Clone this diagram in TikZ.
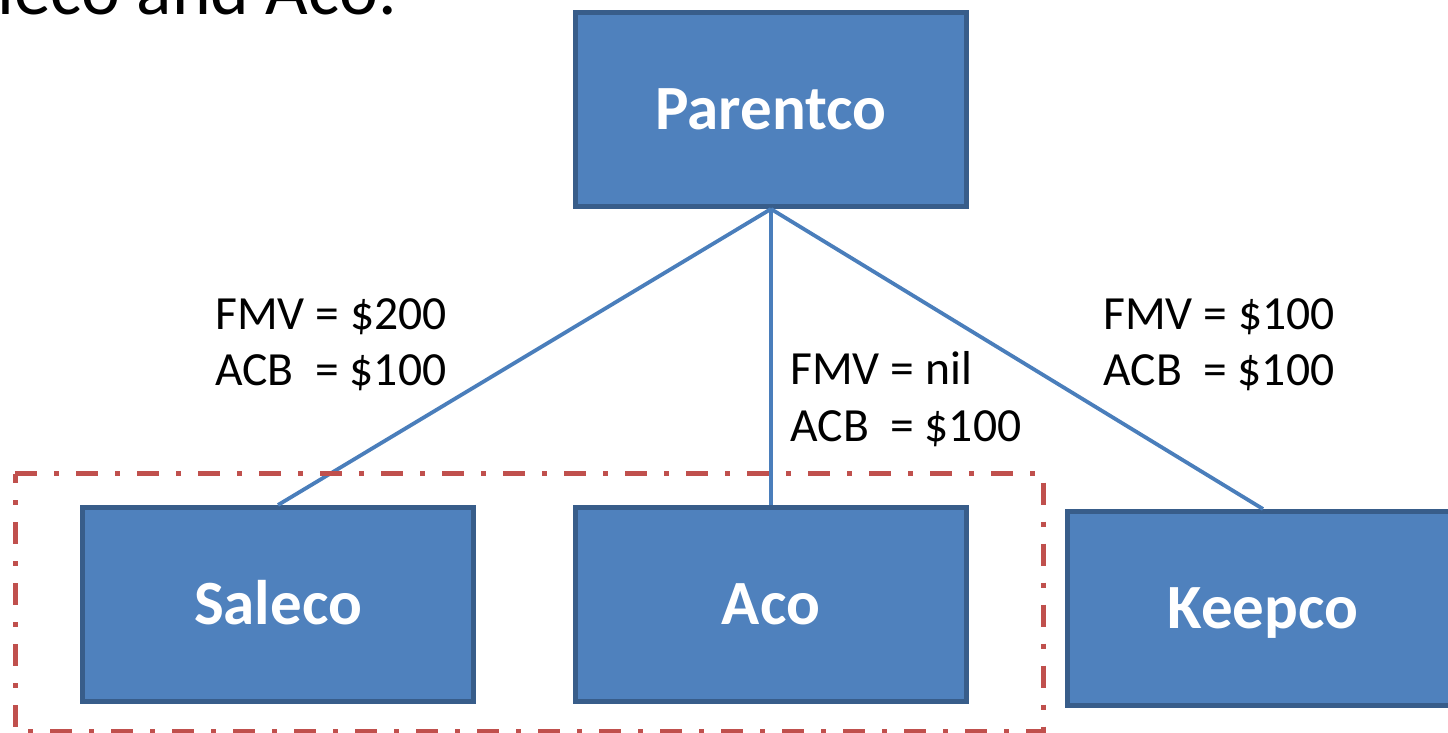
\documentclass[tikz,border=0pt]{standalone}
\usepackage{fontspec}
\setmainfont{Carlito}
\definecolor{boxfill}{HTML}{4F81BD}
\definecolor{boxline}{HTML}{385D8A}
\definecolor{linkline}{HTML}{4A7EBB}
\definecolor{groupred}{HTML}{C0504D}
\begin{document}
\begin{tikzpicture}[x=0.5pt,y=-0.5pt,
  entity/.style={draw=boxline, line width=2.5pt, fill=boxfill, text=white,
    font=\fontsize{31.5}{37}\selectfont\bfseries,
    minimum width=195.5pt, minimum height=97pt, inner sep=0pt,
    text height=20.3pt, text depth=0pt},
  link/.style={draw=linkline, line width=1.9pt},
  value/.style={font=\fontsize{23.8}{28.5}\selectfont, anchor=base west, inner sep=0pt},
  heading/.style={font=\fontsize{36.8}{44}\selectfont, anchor=base west, inner sep=0pt},
  group/.style={draw=groupred, line width=2.5pt,
    dash pattern=on 11pt off 8.5pt on 2.5pt off 8.5pt}]
\useasboundingbox (0,0) rectangle (1448,733);

% heading line running off the top-left edge
\node[heading] (title) at (-72,15) {Saleco and Aco.};

% companies
\node[entity] (parentco) at (771,109.5) {Parentco};
\node[entity] (saleco) at (278,604.5) {Saleco};
\node[entity] (aco) at (771,604.5) {Aco};
\node[entity] (keepco) at (1263,608.5) {Keepco};

% ownership links
\draw[link] (parentco.south) -- (saleco.north);
\draw[link] (parentco.south) -- (aco.north);
\draw[link] (parentco.south) -- (keepco.north);

% group boundary around Saleco and Aco
\draw[group] (15,473.5) -- (1043,473.5) -- (1043,731) -- (15,731) -- cycle;

% share values
\node[value] (fmvS) at (215,329) {FMV = \$200};
\node[value] (acbS) at (215,386) {ACB\ \ = \$100};
\node[value] (fmvA) at (790,384) {FMV = nil};
\node[value] (acbA) at (790,441) {ACB\ \ = \$100};
\node[value] (fmvK) at (1103,329) {FMV = \$100};
\node[value] (acbK) at (1103,386) {ACB\ \ = \$100};
\end{tikzpicture}
\end{document}
